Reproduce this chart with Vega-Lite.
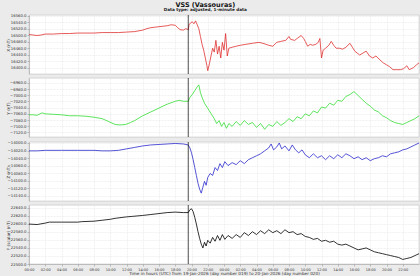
{
"$schema": "https://vega.github.io/schema/vega-lite/v6.json",
"background": "#ebebeb",
"padding": {"left": 5, "top": 1, "right": 3, "bottom": 0},
"title": {"text": "VSS (Vassouras)", "subtitle": "Data type: adjusted, 1-minute data", "anchor": "middle", "frame": "bounds", "dx": -8, "fontSize": 6.5, "subtitleFontSize": 4.2, "font": "DejaVu Sans", "subtitleFont": "DejaVu Sans", "fontWeight": "bold", "subtitleFontWeight": "bold", "color": "#111", "subtitleColor": "#222", "offset": 1, "subtitlePadding": 0},
"spacing": 2,
"datasets": {
"X": [{"t":0,"v":16502.4},{"t":0.5,"v":16500.9},{"t":1,"v":16499.4},{"t":1.5,"v":16500.9},{"t":2,"v":16503.9},{"t":3,"v":16503.9},{"t":4,"v":16505.5},{"t":5,"v":16505.5},{"t":6,"v":16507.0},{"t":7,"v":16507.0},{"t":8,"v":16507.0},{"t":9,"v":16508.5},{"t":10,"v":16508.5},{"t":11,"v":16508.5},{"t":12,"v":16510.0},{"t":13,"v":16511.5},{"t":14,"v":16516.1},{"t":14.5,"v":16520.6},{"t":15,"v":16523.6},{"t":15.5,"v":16525.2},{"t":16,"v":16526.7},{"t":16.5,"v":16528.2},{"t":17,"v":16529.7},{"t":17.5,"v":16532.7},{"t":18,"v":16531.2},{"t":18.3,"v":16523.6},{"t":18.6,"v":16517.6},{"t":19,"v":16516.1},{"t":19.3,"v":16520.6},{"t":19.6,"v":16517.6},{"t":19.7,"v":16532.7},{"t":19.9,"v":16538.8},{"t":20.1,"v":16541.8},{"t":20.3,"v":16535.8},{"t":20.5,"v":16544.8},{"t":20.7,"v":16532.7},{"t":20.9,"v":16520.6},{"t":21.1,"v":16496.4},{"t":21.3,"v":16472.1},{"t":21.5,"v":16453.9},{"t":21.7,"v":16429.7},{"t":21.9,"v":16405.5},{"t":22.0,"v":16390.3},{"t":22.2,"v":16411.5},{"t":22.4,"v":16435.8},{"t":22.6,"v":16460.0},{"t":22.8,"v":16447.9},{"t":23.0,"v":16484.3},{"t":23.2,"v":16441.8},{"t":23.4,"v":16466.1},{"t":23.6,"v":16429.7},{"t":23.8,"v":16478.2},{"t":24.0,"v":16453.9},{"t":24.2,"v":16505.5},{"t":24.4,"v":16435.8},{"t":24.6,"v":16460.0},{"t":25,"v":16463.0},{"t":25.5,"v":16466.1},{"t":26,"v":16469.1},{"t":26.7,"v":16472.1},{"t":27.5,"v":16475.2},{"t":28.3,"v":16478.2},{"t":28.8,"v":16475.2},{"t":29.5,"v":16469.1},{"t":30,"v":16466.1},{"t":30.5,"v":16478.2},{"t":31,"v":16481.2},{"t":31.6,"v":16484.3},{"t":32,"v":16496.4},{"t":32.2,"v":16487.3},{"t":32.7,"v":16484.3},{"t":33,"v":16490.3},{"t":33.5,"v":16499.4},{"t":33.8,"v":16490.3},{"t":34,"v":16481.2},{"t":34.3,"v":16466.1},{"t":34.6,"v":16472.1},{"t":34.9,"v":16469.1},{"t":35.3,"v":16472.1},{"t":35.6,"v":16478.2},{"t":35.8,"v":16490.3},{"t":36,"v":16429.7},{"t":36.2,"v":16453.9},{"t":36.5,"v":16460.0},{"t":36.9,"v":16469.1},{"t":37.2,"v":16481.2},{"t":37.5,"v":16469.1},{"t":37.8,"v":16460.0},{"t":38.2,"v":16460.0},{"t":38.6,"v":16457.0},{"t":39,"v":16463.0},{"t":39.5,"v":16475.2},{"t":39.8,"v":16463.0},{"t":40.1,"v":16450.9},{"t":40.7,"v":16438.8},{"t":41.1,"v":16444.9},{"t":41.5,"v":16450.9},{"t":41.9,"v":16435.8},{"t":42.3,"v":16429.7},{"t":42.7,"v":16435.8},{"t":43.2,"v":16423.6},{"t":43.6,"v":16414.6},{"t":44,"v":16408.5},{"t":44.4,"v":16402.4},{"t":44.8,"v":16393.4},{"t":45.2,"v":16393.4},{"t":45.7,"v":16393.4},{"t":46.1,"v":16396.4},{"t":46.5,"v":16405.5},{"t":46.8,"v":16393.4},{"t":47.3,"v":16399.4},{"t":47.7,"v":16408.5},{"t":48,"v":16414.6}],
"Y": [{"t":0,"v":-7063.1},{"t":0.5,"v":-7063.1},{"t":1,"v":-7064.7},{"t":1.6,"v":-7056.9},{"t":2,"v":-7060.0},{"t":3,"v":-7061.6},{"t":4,"v":-7063.1},{"t":5,"v":-7066.3},{"t":6,"v":-7066.3},{"t":7,"v":-7067.8},{"t":8,"v":-7070.9},{"t":9,"v":-7075.6},{"t":9.8,"v":-7085.0},{"t":10.6,"v":-7094.4},{"t":11.2,"v":-7095.9},{"t":11.9,"v":-7094.4},{"t":12.5,"v":-7088.1},{"t":13,"v":-7081.9},{"t":14,"v":-7066.3},{"t":15,"v":-7053.8},{"t":16,"v":-7041.3},{"t":17,"v":-7028.8},{"t":18,"v":-7019.4},{"t":18.5,"v":-7016.3},{"t":19,"v":-7019.4},{"t":19.6,"v":-7019.4},{"t":19.8,"v":-7006.9},{"t":20.1,"v":-6997.5},{"t":20.4,"v":-6985.0},{"t":20.7,"v":-6972.5},{"t":20.9,"v":-6966.3},{"t":21.1,"v":-6991.3},{"t":21.3,"v":-7006.9},{"t":21.6,"v":-7025.6},{"t":21.9,"v":-7038.1},{"t":22.2,"v":-7050.6},{"t":22.5,"v":-7063.1},{"t":22.8,"v":-7075.6},{"t":23.1,"v":-7091.3},{"t":23.4,"v":-7081.9},{"t":23.7,"v":-7100.6},{"t":24,"v":-7088.1},{"t":24.3,"v":-7106.9},{"t":24.6,"v":-7091.3},{"t":25,"v":-7100.6},{"t":25.5,"v":-7085.0},{"t":26,"v":-7097.5},{"t":26.5,"v":-7081.9},{"t":27,"v":-7094.4},{"t":27.5,"v":-7088.1},{"t":28,"v":-7103.8},{"t":28.5,"v":-7091.3},{"t":29,"v":-7110.0},{"t":29.5,"v":-7094.4},{"t":30,"v":-7100.6},{"t":30.5,"v":-7085.0},{"t":31,"v":-7097.5},{"t":31.5,"v":-7088.1},{"t":32,"v":-7075.6},{"t":32.5,"v":-7085.0},{"t":33,"v":-7069.4},{"t":33.5,"v":-7075.6},{"t":34,"v":-7060.0},{"t":34.5,"v":-7066.3},{"t":35,"v":-7050.6},{"t":35.5,"v":-7056.9},{"t":36,"v":-7038.1},{"t":36.5,"v":-7041.3},{"t":37,"v":-7025.6},{"t":37.5,"v":-7031.9},{"t":38,"v":-7016.3},{"t":38.5,"v":-7019.4},{"t":39,"v":-7003.8},{"t":39.5,"v":-6997.5},{"t":40,"v":-6988.1},{"t":40.5,"v":-7000.6},{"t":41,"v":-7013.1},{"t":41.5,"v":-7025.6},{"t":42,"v":-7035.0},{"t":42.5,"v":-7047.5},{"t":43,"v":-7053.8},{"t":43.5,"v":-7066.3},{"t":44,"v":-7072.5},{"t":44.5,"v":-7081.9},{"t":45,"v":-7088.1},{"t":45.5,"v":-7091.3},{"t":46,"v":-7094.4},{"t":46.5,"v":-7088.1},{"t":47,"v":-7081.9},{"t":47.5,"v":-7075.6},{"t":48,"v":-7066.3}],
"Z": [{"t":0,"v":-14020.8},{"t":1,"v":-14020.8},{"t":2,"v":-14019.5},{"t":4,"v":-14019.5},{"t":6,"v":-14019.5},{"t":8,"v":-14019.5},{"t":9,"v":-14020.8},{"t":10,"v":-14020.8},{"t":11,"v":-14019.5},{"t":12,"v":-14015.6},{"t":13,"v":-14011.7},{"t":14,"v":-14007.8},{"t":15,"v":-14005.2},{"t":16,"v":-14003.9},{"t":17,"v":-14002.6},{"t":18,"v":-14001.3},{"t":19,"v":-14002.6},{"t":19.6,"v":-14005.2},{"t":19.8,"v":-14013.0},{"t":20.0,"v":-14026.0},{"t":20.2,"v":-14044.2},{"t":20.4,"v":-14065.0},{"t":20.6,"v":-14085.8},{"t":20.8,"v":-14106.6},{"t":21.0,"v":-14122.2},{"t":21.2,"v":-14132.6},{"t":21.4,"v":-14117.0},{"t":21.6,"v":-14101.4},{"t":21.8,"v":-14111.8},{"t":22.0,"v":-14091.0},{"t":22.3,"v":-14080.6},{"t":22.6,"v":-14085.8},{"t":22.9,"v":-14065.0},{"t":23.2,"v":-14072.8},{"t":23.5,"v":-14054.6},{"t":23.8,"v":-14065.0},{"t":24.1,"v":-14049.4},{"t":24.5,"v":-14059.8},{"t":25,"v":-14052.0},{"t":25.5,"v":-14057.2},{"t":26,"v":-14046.8},{"t":26.5,"v":-14054.6},{"t":27,"v":-14044.2},{"t":27.5,"v":-14039.0},{"t":28,"v":-14033.8},{"t":28.5,"v":-14028.6},{"t":29,"v":-14020.8},{"t":29.5,"v":-14013.0},{"t":29.8,"v":-14002.6},{"t":30.1,"v":-14018.2},{"t":30.5,"v":-14010.4},{"t":30.8,"v":-14000.0},{"t":31.1,"v":-14015.6},{"t":31.5,"v":-14007.8},{"t":32,"v":-14020.8},{"t":32.4,"v":-14005.2},{"t":32.8,"v":-14018.2},{"t":33.2,"v":-14026.0},{"t":33.6,"v":-14018.2},{"t":34,"v":-14031.2},{"t":34.5,"v":-14039.0},{"t":35,"v":-14028.6},{"t":35.5,"v":-14039.0},{"t":36,"v":-14033.8},{"t":36.5,"v":-14044.2},{"t":37,"v":-14033.8},{"t":37.5,"v":-14041.6},{"t":38,"v":-14031.2},{"t":38.5,"v":-14039.0},{"t":39,"v":-14028.6},{"t":39.5,"v":-14033.8},{"t":40,"v":-14041.6},{"t":40.5,"v":-14036.4},{"t":41,"v":-14044.2},{"t":41.5,"v":-14039.0},{"t":42,"v":-14046.8},{"t":42.5,"v":-14041.6},{"t":43,"v":-14039.0},{"t":43.5,"v":-14033.8},{"t":44,"v":-14036.4},{"t":44.5,"v":-14028.6},{"t":45,"v":-14026.0},{"t":45.5,"v":-14023.4},{"t":46,"v":-14018.2},{"t":46.5,"v":-14015.6},{"t":47,"v":-14010.4},{"t":47.5,"v":-14005.2},{"t":48,"v":-14000.0}],
"F": [{"t":0,"v":22599.5},{"t":1,"v":22598.3},{"t":2,"v":22601.9},{"t":2.5,"v":22604.3},{"t":4,"v":22604.3},{"t":6,"v":22604.3},{"t":6.5,"v":22605.5},{"t":8,"v":22606.7},{"t":9,"v":22609.0},{"t":10,"v":22611.4},{"t":10.6,"v":22613.8},{"t":12,"v":22617.4},{"t":12.7,"v":22618.6},{"t":14,"v":22621.0},{"t":15,"v":22623.3},{"t":16,"v":22625.7},{"t":17,"v":22628.1},{"t":18,"v":22629.3},{"t":19,"v":22628.1},{"t":19.6,"v":22628.1},{"t":19.8,"v":22635.2},{"t":20.0,"v":22637.6},{"t":20.2,"v":22630.5},{"t":20.4,"v":22616.2},{"t":20.6,"v":22599.5},{"t":20.8,"v":22580.5},{"t":21.0,"v":22563.8},{"t":21.2,"v":22549.5},{"t":21.4,"v":22540.0},{"t":21.6,"v":22554.3},{"t":21.8,"v":22544.8},{"t":22.0,"v":22559.0},{"t":22.3,"v":22551.9},{"t":22.6,"v":22566.2},{"t":22.9,"v":22556.7},{"t":23.2,"v":22571.0},{"t":23.5,"v":22559.0},{"t":23.8,"v":22573.3},{"t":24.1,"v":22561.4},{"t":24.5,"v":22571.0},{"t":25,"v":22563.8},{"t":25.5,"v":22573.3},{"t":26,"v":22566.2},{"t":26.5,"v":22578.1},{"t":27,"v":22571.0},{"t":27.5,"v":22580.5},{"t":28,"v":22573.3},{"t":28.5,"v":22582.9},{"t":29,"v":22575.7},{"t":29.5,"v":22585.2},{"t":30,"v":22578.1},{"t":30.5,"v":22582.9},{"t":31,"v":22575.7},{"t":31.5,"v":22585.2},{"t":32,"v":22578.1},{"t":32.5,"v":22580.5},{"t":33,"v":22573.3},{"t":33.5,"v":22575.7},{"t":34,"v":22568.6},{"t":34.5,"v":22566.2},{"t":35,"v":22561.4},{"t":35.5,"v":22563.8},{"t":36,"v":22556.7},{"t":36.5,"v":22559.0},{"t":37,"v":22554.3},{"t":37.5,"v":22556.7},{"t":38,"v":22549.5},{"t":38.5,"v":22547.1},{"t":39,"v":22549.5},{"t":39.5,"v":22544.8},{"t":40,"v":22540.0},{"t":40.5,"v":22535.2},{"t":41,"v":22537.6},{"t":41.5,"v":22540.0},{"t":42,"v":22535.2},{"t":42.5,"v":22530.5},{"t":43,"v":22528.1},{"t":43.5,"v":22525.7},{"t":44,"v":22523.3},{"t":44.5,"v":22521.0},{"t":45,"v":22518.6},{"t":45.5,"v":22516.2},{"t":46,"v":22511.4},{"t":46.5,"v":22513.8},{"t":47,"v":22516.2},{"t":47.5,"v":22521.0},{"t":48,"v":22525.7}],
"event": [{"t": 19.6}]
},
"vconcat": [
{"width": 390, "height": 59,
 "layer": [
  {"data": {"name": "X"}, "mark": {"type": "line", "color": "#e03030", "strokeWidth": 0.8},
   "encoding": {
    "x": {"field": "t", "type": "quantitative", "scale": {"domain": [0, 48], "nice": false, "zero": false}, "axis": {"values": [0,2,4,6,8,10,12,14,16,18,20,22,24,26,28,30,32,34,36,38,40,42,44,46], "labels": false, "ticks": false, "domain": false, "title": null}},
    "y": {"field": "v", "type": "quantitative", "scale": {"domain": [16380, 16563], "nice": false, "zero": false}, "axis": {"title": "X (nT)", "values": [16400,16420,16440,16460,16480,16500,16520,16540,16560], "format": ".1f", "titleX": -19, "titleY": 30, "labelOverlap": false}}}},
  {"data": {"name": "event"}, "mark": {"type": "rule", "color": "#000000", "strokeWidth": 0.7}, "encoding": {"x": {"field": "t", "type": "quantitative", "axis": {"values": [0,2,4,6,8,10,12,14,16,18,20,22,24,26,28,30,32,34,36,38,40,42,44,46], "labels": false, "ticks": false, "domain": false, "title": null}}}}
 ]},
{"width": 390, "height": 59,
 "layer": [
  {"data": {"name": "Y"}, "mark": {"type": "line", "color": "#33dd33", "strokeWidth": 0.8},
   "encoding": {
    "x": {"field": "t", "type": "quantitative", "scale": {"domain": [0, 48], "nice": false, "zero": false}, "axis": {"values": [0,2,4,6,8,10,12,14,16,18,20,22,24,26,28,30,32,34,36,38,40,42,44,46], "labels": false, "ticks": false, "domain": false, "title": null}},
    "y": {"field": "v", "type": "quantitative", "scale": {"domain": [-7135, -6944], "nice": false, "zero": false}, "axis": {"title": "Y (nT)", "values": [-7120,-7100,-7080,-7060,-7040,-7020,-7000,-6980,-6960], "format": ".1f", "titleX": -19, "titleY": 30, "labelOverlap": false}}}},
  {"data": {"name": "event"}, "mark": {"type": "rule", "color": "#000000", "strokeWidth": 0.7}, "encoding": {"x": {"field": "t", "type": "quantitative", "axis": {"values": [0,2,4,6,8,10,12,14,16,18,20,22,24,26,28,30,32,34,36,38,40,42,44,46], "labels": false, "ticks": false, "domain": false, "title": null}}}}
 ]},
{"width": 390, "height": 59,
 "layer": [
  {"data": {"name": "Z"}, "mark": {"type": "line", "color": "#2a2acc", "strokeWidth": 0.8},
   "encoding": {
    "x": {"field": "t", "type": "quantitative", "scale": {"domain": [0, 48], "nice": false, "zero": false}, "axis": {"values": [0,2,4,6,8,10,12,14,16,18,20,22,24,26,28,30,32,34,36,38,40,42,44,46], "labels": false, "ticks": false, "domain": false, "title": null}},
    "y": {"field": "v", "type": "quantitative", "scale": {"domain": [-14153.4, -13997.4], "nice": false, "zero": false}, "axis": {"title": "Z (nT)", "values": [-14140,-14120,-14100,-14080,-14060,-14040,-14020,-14000], "format": ".1f", "titleX": -19, "titleY": 30, "labelOverlap": false}}}},
  {"data": {"name": "event"}, "mark": {"type": "rule", "color": "#000000", "strokeWidth": 0.7}, "encoding": {"x": {"field": "t", "type": "quantitative", "axis": {"values": [0,2,4,6,8,10,12,14,16,18,20,22,24,26,28,30,32,34,36,38,40,42,44,46], "labels": false, "ticks": false, "domain": false, "title": null}}}}
 ]},
{"width": 390, "height": 59,
 "layer": [
  {"data": {"name": "F"}, "mark": {"type": "line", "color": "#000000", "strokeWidth": 0.8},
   "encoding": {
    "x": {"field": "t", "type": "quantitative", "scale": {"domain": [0, 48], "nice": false, "zero": false}, "axis": {"values": [0,2,4,6,8,10,12,14,16,18,20,22,24,26,28,30,32,34,36,38,40,42,44,46], "labelExpr": "(datum.value % 24 < 10 ? '0' : '') + (datum.value % 24) + ':00'", "labelOverlap": false, "labelFlush": false, "labelBound": false, "labelFontSize": 3.5, "title": "Time in hours (UTC) from 19-Jan-2026 (day number 019) to 20-Jan-2026 (day number 020)", "titlePadding": 1}},
    "y": {"field": "v", "type": "quantitative", "scale": {"domain": [22500, 22647], "nice": false, "zero": false}, "axis": {"title": "F (scalar) (nT)", "values": [22500,22520,22540,22560,22580,22600,22620,22640], "format": ".1f", "titleX": -19, "titleY": 30, "labelOverlap": false}}}},
  {"data": {"name": "event"}, "mark": {"type": "rule", "color": "#000000", "strokeWidth": 0.7}, "encoding": {"x": {"field": "t", "type": "quantitative", "axis": {"values": [0,2,4,6,8,10,12,14,16,18,20,22,24,26,28,30,32,34,36,38,40,42,44,46], "labelExpr": "(datum.value % 24 < 10 ? '0' : '') + (datum.value % 24) + ':00'", "labelOverlap": false, "labelFlush": false, "labelBound": false, "labelFontSize": 3.5, "title": "Time in hours (UTC) from 19-Jan-2026 (day number 019) to 20-Jan-2026 (day number 020)", "titlePadding": 1}}}}
 ]}
],
"config": {
 "view": {"fill": "#ffffff", "stroke": "#bdbdbd", "strokeWidth": 0.6},
 "axis": {"labelFont": "DejaVu Sans", "titleFont": "DejaVu Sans", "labelFontSize": 3.8, "titleFontSize": 4.2, "titleFontWeight": "normal", "labelColor": "#333333", "titleColor": "#333333", "tickColor": "#888888", "domainColor": "#999999", "domainWidth": 0.5, "tickWidth": 0.5, "tickSize": 2, "labelPadding": 1, "gridColor": "#e2e2e2", "gridWidth": 0.5, "gridDash": [2, 1]}
}
}
